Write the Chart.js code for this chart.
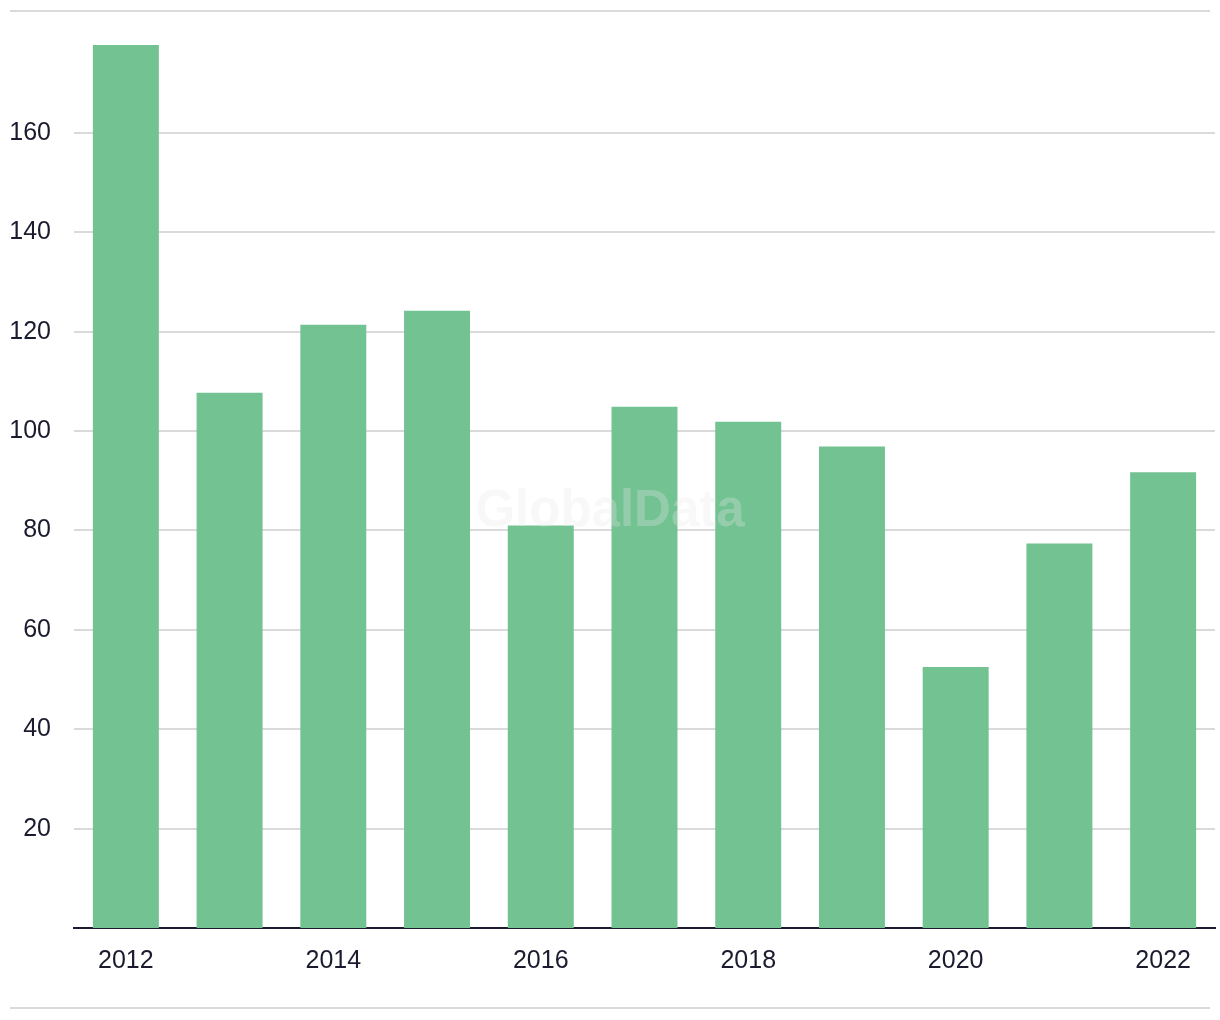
<!DOCTYPE html>
<html lang="en">
<head>
    <meta charset="UTF-8">
    <title>Yearly totals</title>
    <script src="https://cdn.jsdelivr.net/npm/chart.js@4.4.1/dist/chart.umd.min.js"></script>
    <style>
        html, body { margin: 0; padding: 0; background: #fff; }
        .wrap { width: 1220px; height: 1020px; position: relative; }
    </style>
</head>
<body>
<div class="wrap">
    <canvas id="chart" width="1220" height="1020"></canvas>
</div>
<script>
    // values
    const years = ["2012", "2013", "2014", "2015", "2016", "2017", "2018", "2019", "2020", "2021", "2022"];
    const totals = [177.7, 107.7, 121.4, 124.2, 81.0, 104.9, 101.9, 96.9, 52.5, 77.4, 91.7];
    const yTicks = [20, 40, 60, 80, 100, 120, 140, 160];

    const textColor = "#1b1b2f";
    const barColor = "#72c292";
    const gridColor = "#dadada";

    // light rules above and below the plot, and the faint watermark
    const decor = {
        id: "decor",
        afterDatasetsDraw(chart) {
            const ctx = chart.ctx;
            ctx.save();
            ctx.fillStyle = "rgba(232,232,232,0.3)";
            ctx.font = "bold 51px 'Liberation Sans', Arial, sans-serif";
            ctx.textAlign = "center";
            ctx.textBaseline = "middle";
            ctx.fillText("GlobalData", chart.width / 2, 512);
            ctx.restore();
        },
        afterDraw(chart) {
            const ctx = chart.ctx;
            ctx.save();
            ctx.strokeStyle = gridColor;
            ctx.lineWidth = 2;
            ctx.beginPath();
            ctx.moveTo(10, 11);
            ctx.lineTo(1210, 11);
            ctx.moveTo(10, 1008);
            ctx.lineTo(1210, 1008);
            ctx.stroke();
            ctx.restore();
        }
    };

    new Chart("chart", {
        type: "bar",
        data: {
            labels: years,
            datasets: [{
                data: totals,
                backgroundColor: barColor,
                borderWidth: 0,
                barPercentage: 0.636,
                categoryPercentage: 1.0
            }]
        },
        options: {
            responsive: false,
            animation: false,
            layout: {
                padding: { left: 10, right: 5, top: 12, bottom: 0 }
            },
            plugins: {
                legend: { display: false },
                tooltip: { enabled: false }
            },
            scales: {
                x: {
                    grid: { display: false, drawTicks: false },
                    border: { display: true, color: textColor, width: 2 },
                    ticks: {
                        autoSkip: false,
                        maxRotation: 0,
                        padding: 18,
                        color: textColor,
                        font: { family: "'Liberation Sans', Arial, sans-serif", size: 25 },
                        callback: function (value, index) {
                            return index % 2 === 0 ? years[index] : "";
                        }
                    },
                    afterFit: function (scale) {
                        scale.height = 92;
                    }
                },
                y: {
                    min: 0,
                    max: 179.1,
                    grid: { color: gridColor, lineWidth: 2, drawTicks: false },
                    border: { display: false },
                    ticks: {
                        padding: 23,
                        color: textColor,
                        font: { family: "'Liberation Sans', Arial, sans-serif", size: 25 }
                    },
                    afterBuildTicks: function (scale) {
                        scale.ticks = yTicks.map(function (v) { return { value: v }; });
                    },
                    afterFit: function (scale) {
                        scale.width = 64;
                    }
                }
            }
        },
        plugins: [decor]
    });
</script>
</body>
</html>
